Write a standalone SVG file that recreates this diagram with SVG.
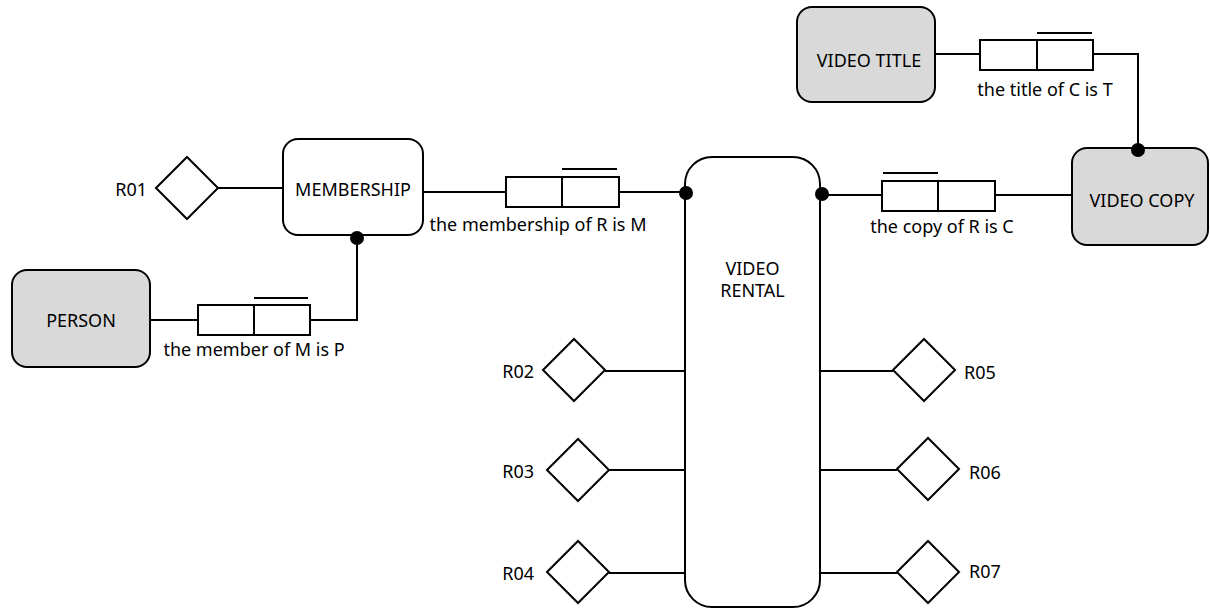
<svg xmlns="http://www.w3.org/2000/svg" width="1210" height="608" viewBox="0 0 1210 608">
<style>
.box{stroke:#000;stroke-width:2;fill:#fff}
.ent{stroke:#000;stroke-width:2;fill:#d9d9d9}
.dia{stroke:#000;stroke-width:2;fill:#fff}
.ln{stroke:#000;stroke-width:2;fill:none}
.role{stroke:#000;stroke-width:2;fill:#fff}
.t{font-family:"Noto Sans","DejaVu Sans",sans-serif;font-size:18px;fill:#000}
.c{text-anchor:middle}
.e{text-anchor:end}
.dot{fill:#000}
</style>
<rect width="1210" height="608" fill="#fff"/>
<g id="connectors">
<line class="ln" x1="218" y1="188" x2="283" y2="188"/>
<line class="ln" x1="150" y1="320" x2="198" y2="320"/>
<polyline class="ln" points="310,320 357,320 357,237"/>
<line class="ln" x1="423" y1="192" x2="506" y2="192"/>
<line class="ln" x1="619" y1="192" x2="686" y2="192"/>
<line class="ln" x1="822" y1="195" x2="882" y2="195"/>
<line class="ln" x1="995" y1="195" x2="1072" y2="195"/>
<line class="ln" x1="935" y1="54" x2="980" y2="54"/>
<polyline class="ln" points="1093,54 1138,54 1138,149"/>
<line class="ln" x1="605" y1="371" x2="685" y2="371"/>
<line class="ln" x1="609" y1="470" x2="685" y2="470"/>
<line class="ln" x1="609" y1="573" x2="685" y2="573"/>
<line class="ln" x1="820" y1="371" x2="893" y2="371"/>
<line class="ln" x1="820" y1="470" x2="897" y2="470"/>
<line class="ln" x1="820" y1="573" x2="897" y2="573"/>
<g id="role-member">
<rect class="role" x="198" y="305" width="112" height="30"/>
<line class="ln" x1="254" y1="305" x2="254" y2="335"/>
<line class="ln" x1="254" y1="298" x2="308" y2="298"/>
<text class="t c" x="254" y="356">the member of M is P</text>
</g>
<g id="role-membership">
<rect class="role" x="506" y="177" width="113" height="30"/>
<line class="ln" x1="562" y1="177" x2="562" y2="207"/>
<line class="ln" x1="562" y1="169" x2="617" y2="169"/>
<text class="t c" x="538" y="231">the membership of R is M</text>
</g>
<g id="role-copy">
<rect class="role" x="882" y="181" width="113" height="30"/>
<line class="ln" x1="938" y1="181" x2="938" y2="211"/>
<line class="ln" x1="883" y1="173" x2="938" y2="173"/>
<text class="t c" x="942" y="233">the copy of R is C</text>
</g>
<g id="role-title">
<rect class="role" x="980" y="40" width="113" height="30"/>
<line class="ln" x1="1037" y1="40" x2="1037" y2="70"/>
<line class="ln" x1="1037" y1="33" x2="1092" y2="33"/>
<text class="t c" x="1045" y="96">the title of C is T</text>
</g>
</g>
<g id="person">
<rect class="ent" x="12" y="270" width="138" height="97" rx="15"/>
<text class="t c" x="81" y="327">PERSON</text>
</g>
<g id="membership">
<rect class="box" x="283" y="139" width="140" height="96" rx="15"/>
<text class="t c" x="353" y="196">MEMBERSHIP</text>
</g>
<g id="video-rental">
<rect class="box" x="685" y="157" width="135" height="450" rx="27"/>
<text class="t c" x="752.5" y="275">VIDEO</text>
<text class="t c" x="752.5" y="297">RENTAL</text>
</g>
<g id="video-title">
<rect class="ent" x="797" y="7" width="138" height="95" rx="15"/>
<text class="t c" x="869" y="67">VIDEO TITLE</text>
</g>
<g id="video-copy">
<rect class="ent" x="1072" y="148" width="136" height="97" rx="15"/>
<text class="t c" x="1142" y="207">VIDEO COPY</text>
</g>
<g id="dots">
<circle class="dot" cx="357" cy="238" r="7"/>
<circle class="dot" cx="686" cy="193" r="7"/>
<circle class="dot" cx="822" cy="194" r="7"/>
<circle class="dot" cx="1138" cy="150" r="7"/>
</g>
<g id="r01"><polygon class="dia" points="156,188 187,157 218,188 187,219"/><text class="t e" x="147" y="196">R01</text></g>
<g id="r02"><polygon class="dia" points="543,370 574,339 605,370 574,401"/><text class="t e" x="534" y="378">R02</text></g>
<g id="r03"><polygon class="dia" points="547,470 578,439 609,470 578,501"/><text class="t e" x="534" y="478">R03</text></g>
<g id="r04"><polygon class="dia" points="547,572 578,541 609,572 578,603"/><text class="t e" x="534" y="580">R04</text></g>
<g id="r05"><polygon class="dia" points="893,370 924,339 955,370 924,401"/><text class="t" x="964" y="379">R05</text></g>
<g id="r06"><polygon class="dia" points="897,469 928,438 959,469 928,500"/><text class="t" x="969" y="479">R06</text></g>
<g id="r07"><polygon class="dia" points="897,572 928,541 959,572 928,603"/><text class="t" x="969" y="578">R07</text></g>
</svg>
